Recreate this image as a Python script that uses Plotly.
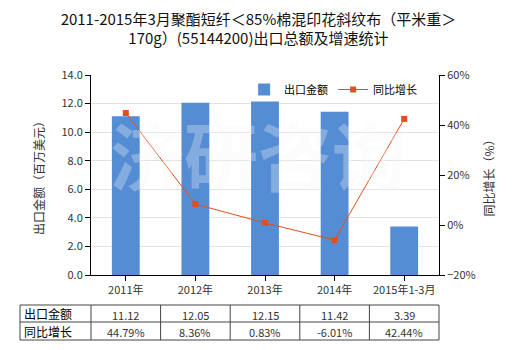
import plotly.graph_objects as go

# Export value (million USD) and year-on-year growth (%)
categories = ["2011年", "2012年", "2013年", "2014年", "2015年1-3月"]
export_value = [11.12, 12.05, 12.15, 11.42, 3.39]
growth_pct = [44.79, 8.36, 0.83, -6.01, 42.44]
value_labels = ["11.12", "12.05", "12.15", "11.42", "3.39"]
growth_labels = ["44.79%", "8.36%", "0.83%", "-6.01%", "42.44%"]
row_names = ["出口金额", "同比增长"]

FONT = "Noto Sans CJK SC, Microsoft YaHei, sans-serif"
BAR_COLOR = "#548dd4"
LINE_COLOR = "#e0501e"
TEXT = "#333333"

fig = go.Figure()
fig.add_trace(go.Bar(
    x=categories, y=export_value, name="出口金额",
    marker=dict(color=BAR_COLOR, line=dict(width=0)),
    width=0.4, yaxis="y",
))
fig.add_trace(go.Scatter(
    x=categories, y=growth_pct, name="同比增长", mode="lines+markers",
    line=dict(color=LINE_COLOR, width=1),
    marker=dict(symbol="square", size=6, color=LINE_COLOR),
    yaxis="y2",
))

# Watermark
fig.add_annotation(
    text="<b>济研咨询</b>", x=0.48, y=0.615, xref="paper", yref="paper",
    showarrow=False, font=dict(size=74, color="rgba(245,245,245,0.3)", family=FONT),
)

# Data table below the plot
n = len(categories)
tbl_left, tbl_right = -0.204, 1.0
row_y = [-0.15, -0.235, -0.325]
line_style = dict(color="#444444", width=1)
for yv in row_y:
    fig.add_shape(type="line", xref="paper", yref="paper",
                  x0=tbl_left, x1=tbl_right, y0=yv, y1=yv, line=line_style)
for xv in [tbl_left] + [k / n for k in range(n)] + [tbl_right]:
    fig.add_shape(type="line", xref="paper", yref="paper",
                  x0=xv, x1=xv, y0=row_y[0], y1=row_y[-1], line=line_style)
for r, name in enumerate(row_names):
    ymid = (row_y[r] + row_y[r + 1]) / 2
    fig.add_annotation(text=name, x=tbl_left + 0.005, y=ymid, xref="paper", yref="paper",
                       xanchor="left", yanchor="middle", showarrow=False,
                       font=dict(size=12, color="#000000", family=FONT))
    labels = value_labels if r == 0 else growth_labels
    for i, lab in enumerate(labels):
        fig.add_annotation(text=lab, x=(i + 0.5) / n, y=ymid - 0.005, xref="paper", yref="paper",
                           xanchor="center", yanchor="middle", showarrow=False,
                           font=dict(size=11, color=TEXT, family=FONT))

fig.update_layout(
    width=520, height=350,
    margin=dict(l=91, r=81, t=75, b=75),
    paper_bgcolor="white", plot_bgcolor="white",
    font=dict(family=FONT, color=TEXT, size=11),
    title=dict(
        text="2011-2015年3月聚酯短纤＜85%棉混印花斜纹布（平米重＞<br>170g）(55144200)出口总额及增速统计",
        x=0.497, xanchor="center", y=0.93, yanchor="top",
        font=dict(size=15, color="#111111", family=FONT, weight="normal"),
    ),
    bargap=0.6,
    xaxis=dict(
        showline=True, linecolor="#000000", linewidth=1,
        ticks="outside", ticklen=5, tickcolor="#000000",
        tickfont=dict(size=11, color=TEXT), showgrid=False,
    ),
    yaxis=dict(
        range=[0, 14], dtick=2, tickformat=".1f",
        showline=True, linecolor="#000000", linewidth=1,
        ticks="outside", ticklen=5, tickcolor="#000000",
        showgrid=True, gridcolor="#e3e3e3", gridwidth=1, zeroline=False,
        tickfont=dict(size=11, color=TEXT),
        title=dict(text="出口金额（百万美元）", font=dict(size=12, color=TEXT), standoff=14),
    ),
    yaxis2=dict(
        range=[-20, 60], dtick=20, ticksuffix="%", overlaying="y", side="right",
        showline=True, linecolor="#000000", linewidth=1,
        ticks="outside", ticklen=5, tickcolor="#000000",
        showgrid=False, zeroline=False,
        tickfont=dict(size=11, color=TEXT),
        title=dict(text="同比增长（%）", font=dict(size=12, color=TEXT), standoff=10),
    ),
    legend=dict(
        orientation="h", x=0.44, y=1.0, xanchor="left", yanchor="top",
        bgcolor="rgba(0,0,0,0)", font=dict(size=11, color="#000000"),
        itemwidth=30, traceorder="normal",
    ),
    showlegend=True,
)

fig.write_html("out.html")
